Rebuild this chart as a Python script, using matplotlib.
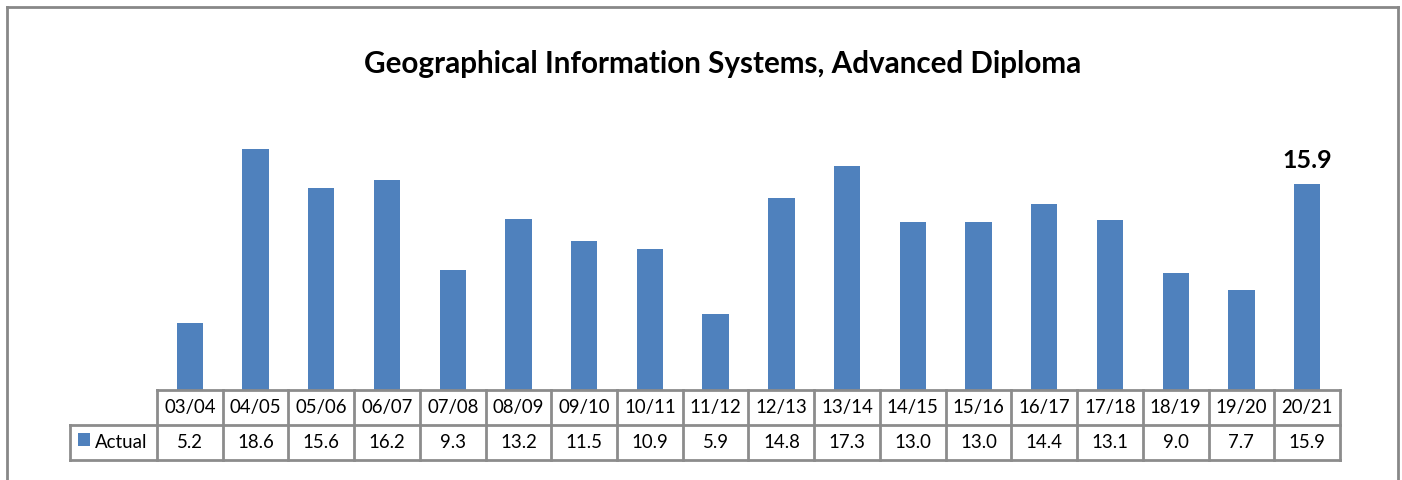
import matplotlib
matplotlib.use("Agg")
import matplotlib.pyplot as plt
from matplotlib.patches import Rectangle
from matplotlib.lines import Line2D
import matplotlib.transforms as mtrans

years = ["03/04", "04/05", "05/06", "06/07", "07/08", "08/09", "09/10", "10/11", "11/12",
         "12/13", "13/14", "14/15", "15/16", "16/17", "17/18", "18/19", "19/20", "20/21"]
actual = [5.2, 18.6, 15.6, 16.2, 9.3, 13.2, 11.5, 10.9, 5.9,
          14.8, 17.3, 13.0, 13.0, 14.4, 13.1, 9.0, 7.7, 15.9]
series_name = "Actual"
title = "Geographical Information Systems, Advanced Diploma"

W, H = 1402, 480
BAR = "#4F81BD"
GRID = "#8C8C8C"
FONT = ["Lato", "DejaVu Sans"]

fig = plt.figure(figsize=(W / 100, H / 100), dpi=100)

# outer border
fig.add_artist(Line2D([7 / W, 7 / W], [0, 1 - 7 / H], transform=fig.transFigure, color="#888888", lw=2))
fig.add_artist(Line2D([7 / W, 1398 / W], [1 - 7 / H, 1 - 7 / H], transform=fig.transFigure, color="#888888", lw=2))
fig.add_artist(Line2D([1398 / W, 1398 / W], [0, 1 - 7 / H], transform=fig.transFigure, color="#888888", lw=2))

left, right = 157, 1340
bottom, top = 390, 131
ax = fig.add_axes([left / W, 1 - bottom / H, (right - left) / W, (bottom - top) / H])
x = list(range(len(years)))
ax.bar(x, actual, width=0.4, color=BAR, zorder=2)
ax.set_xlim(-0.5, len(years) - 0.5)
ax.set_ylim(0, 20)
ax.axis("off")

ax.text(x[-1], actual[-1] + 0.95, f"{actual[-1]:.1f}", ha="center", va="bottom",
        fontsize=18, fontweight="bold", family=FONT)

fig.text(723 / W, 1 - 64 / H, title, ha="center", va="center", fontsize=21.3,
         fontweight="bold", family=FONT)

# data table
ah = bottom - top
r0, r1, r2 = 0, -35 / ah, -70 / ah
tr = mtrans.blended_transform_factory(ax.transData, ax.transAxes)
n = len(years)
lw = 2
kw = dict(transform=tr, color=GRID, lw=lw, clip_on=False, solid_capstyle="projecting")
legx = -0.5 - (left - 70) / ((right - left) / n)
ax.add_line(Line2D([-0.5, n - 0.5], [r0, r0], **kw))
ax.add_line(Line2D([legx, n - 0.5], [r1, r1], **kw))
ax.add_line(Line2D([legx, n - 0.5], [r2, r2], **kw))
ax.add_line(Line2D([legx, legx], [r1, r2], **kw))
for i in range(n + 1):
    ax.add_line(Line2D([i - 0.5, i - 0.5], [r0, r2], **kw))
for i, (yl, v) in enumerate(zip(years, actual)):
    ax.text(i, (r0 + r1) / 2, yl, transform=tr, ha="center", va="center", fontsize=13.4, family=FONT)
    ax.text(i, (r1 + r2) / 2, f"{v:.1f}", transform=tr, ha="center", va="center", fontsize=13.4, family=FONT)

# legend key
fig.add_artist(Rectangle((78 / W, 1 - 446 / H), 12 / W, 13 / H, transform=fig.transFigure,
                         facecolor=BAR, edgecolor="none"))
fig.text(95 / W, 1 - 442 / H, series_name, ha="left", va="center", fontsize=13.4, family=FONT)

fig.savefig("out.png", dpi=100)
